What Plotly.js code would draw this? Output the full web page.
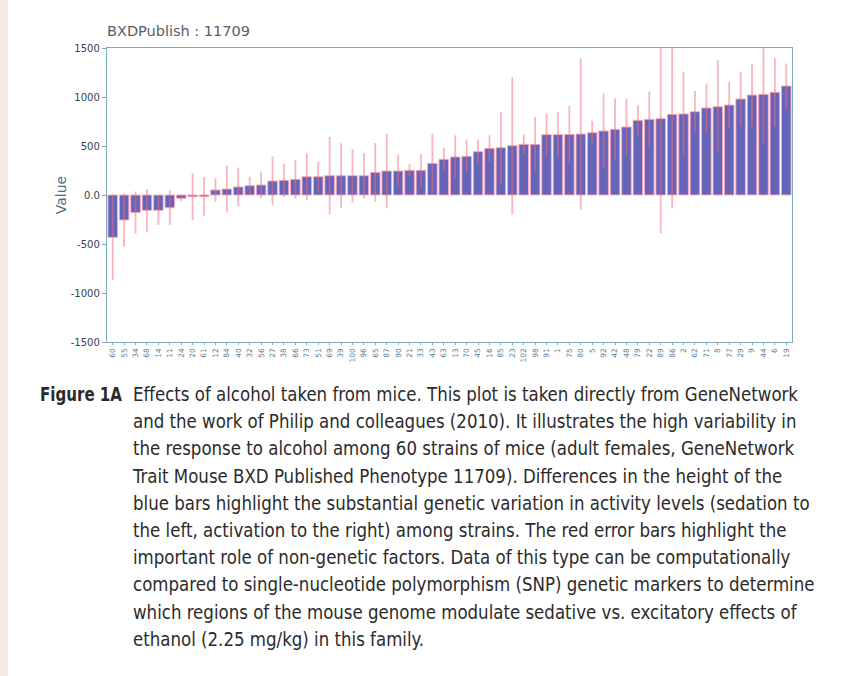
<!DOCTYPE html>
<html>
<head>
<meta charset="utf-8">
<script src="https://cdn.plot.ly/plotly-3.0.1.min.js"></script>
<style>
  html, body { margin: 0; padding: 0; }
  body { width: 847px; height: 676px; background: #ffffff; position: relative; overflow: hidden; }
  #strip { position: absolute; left: 0; top: 0; width: 8px; height: 676px; background: #f1ede1; }
  #chart { position: absolute; left: 0; top: 0; width: 847px; height: 676px; }
  #fig { position: absolute; left: 40px; top: 381px; font-family: "DejaVu Sans Condensed", "Liberation Sans Narrow", "DejaVu Sans", sans-serif; font-weight: bold; font-size: 19px; line-height: 27px; color: #2b2b2b; transform-origin: left top; white-space: nowrap; }
  #cap { position: absolute; left: 133px; top: 381px; font-family: "DejaVu Sans Condensed", "Liberation Sans Narrow", "DejaVu Sans", sans-serif; font-size: 19px; line-height: 27.2px; color: #2b2b2b; transform-origin: left top; white-space: nowrap; }
</style>
</head>
<body>
<div id="strip"></div>
<div id="chart"></div>
<div id="fig">Figure 1A</div>
<div id="cap"></div>
<script>
// Strain labels (BXD strain numbers, approximate)
const strains = ["60","55","34","68","14","11","24","20","61","12","84","40","32","56","27","38","66","73","51","69",
                 "39","100","96","65","87","90","21","33","43","63","13","70","45","16","85","23","102","98","91","1",
                 "75","80","5","92","42","48","79","22","89","86","2","62","71","8","77","29","9","44","6","19"];
// Mean values per strain
const values = [-432,-255,-180,-156,-156,-130,-34,-17,-17,51,61,82,95,102,143,150,160,187,187,197,
                197,197,197,231,245,245,252,252,323,364,388,395,442,476,483,503,517,517,616,616,
                618,622,636,653,670,694,762,772,779,823,827,850,888,901,918,980,1020,1027,1048,1112];
// Error (symmetric) per strain
const errors = [435,272,215,218,150,176,30,238,200,120,240,195,92,135,250,170,195,240,150,395,
                330,270,230,300,380,165,60,170,300,120,220,170,120,135,365,700,100,280,215,230,
                290,770,120,380,315,290,155,285,1170,960,430,210,250,475,235,275,320,500,350,230];
// Axis ticks
const yTickVals = [-1500,-1000,-500,0,500,1000,1500];
const yTickText = ["-1500","-1000","-500","0.0","500","1000","1500"];

const captionLines = [
  "Effects of alcohol taken from mice. This plot is taken directly from GeneNetwork",
  "and the work of Philip and colleagues (2010). It illustrates the high variability in",
  "the response to alcohol among 60 strains of mice (adult females, GeneNetwork",
  "Trait Mouse BXD Published Phenotype 11709). Differences in the height of the",
  "blue bars highlight the substantial genetic variation in activity levels (sedation to",
  "the left, activation to the right) among strains. The red error bars highlight the",
  "important role of non-genetic factors. Data of this type can be computationally",
  "compared to single-nucleotide polymorphism (SNP) genetic markers to determine",
  "which regions of the mouse genome modulate sedative vs. excitatory effects of",
  "ethanol (2.25 mg/kg) in this family."
];

const xIdx = strains.map((s, i) => i);

const trace = {
  type: 'bar',
  x: xIdx,
  y: values,
  marker: { color: 'rgb(100,100,186)', line: { color: 'rgba(255,170,185,0.9)', width: 1 } },
  error_y: { type: 'data', array: errors, visible: true, color: 'rgba(240,110,122,0.5)', thickness: 1.8, width: 0 },
  hoverinfo: 'none'
};

const axisColor = '#7fa9bf';
const layout = {
  width: 847, height: 676,
  margin: { l: 107, r: 55, t: 48, b: 334 },
  paper_bgcolor: 'rgba(0,0,0,0)',
  plot_bgcolor: '#ffffff',
  showlegend: false,
  bargap: 0.16,
  title: {
    text: 'BXDPublish : 11709',
    font: { family: 'DejaVu Sans, sans-serif', size: 14.5, color: '#55606a' },
    x: 107/847, xanchor: 'left', xref: 'container',
    y: 1 - 31/676, yanchor: 'middle', yref: 'container'
  },
  xaxis: {
    range: [-0.5, 59.5],
    tickmode: 'array', tickvals: xIdx, ticktext: strains,
    tickangle: -90,
    tickfont: { family: 'DejaVu Sans, sans-serif', size: 7.5, color: '#5f8299' },
    ticks: 'outside', ticklen: 2, tickcolor: axisColor,
    showline: true, linecolor: axisColor, linewidth: 1.2, mirror: true,
    showgrid: false, zeroline: false, fixedrange: true
  },
  yaxis: {
    range: [-1500, 1500],
    tickmode: 'array', tickvals: yTickVals, ticktext: yTickText,
    tickfont: { family: 'DejaVu Sans, sans-serif', size: 10, color: '#33434f' },
    ticks: 'outside', ticklen: 4, tickcolor: axisColor,
    showline: true, linecolor: axisColor, linewidth: 1.2, mirror: true,
    showgrid: false, zeroline: false,
    title: { text: 'Value', font: { family: 'DejaVu Sans, sans-serif', size: 14, color: '#4d6e84' }, standoff: 0 },
    fixedrange: true
  }
};

Plotly.newPlot('chart', [trace], layout, { displayModeBar: false, staticPlot: true });

// Caption
const cap = document.getElementById('cap');
cap.innerHTML = captionLines.map(l => '<div>' + l + '</div>').join('');
const probe = document.createElement('span');
probe.style.cssText = 'position:absolute;visibility:hidden;white-space:nowrap;font-family:"DejaVu Sans Condensed","Liberation Sans Narrow","DejaVu Sans",sans-serif;font-size:19px;';
probe.textContent = captionLines[0];
document.body.appendChild(probe);
const w = probe.getBoundingClientRect().width;
document.body.removeChild(probe);
const sx = 665 / w;
cap.style.transform = 'scaleX(' + sx + ')';
const fig = document.getElementById('fig');
const fw = fig.getBoundingClientRect().width;
fig.style.transform = 'scaleX(' + (82 / fw) + ')';
</script>
</body>
</html>
